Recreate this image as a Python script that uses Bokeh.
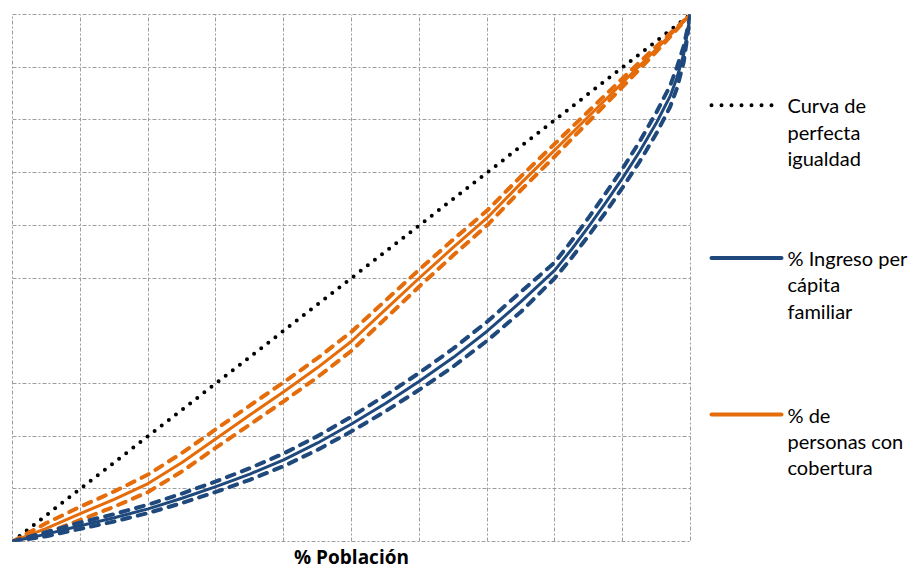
from bokeh.plotting import figure
from bokeh.models import Range1d, FixedTicker, Title
from bokeh.layouts import row
from bokeh.core.properties import value
from bokeh.embed import file_html
from bokeh.resources import INLINE

# ---------------- data ----------------
grid_x_ticks = [0, 0.1, 0.2, 0.3, 0.4, 0.5, 0.6, 0.7, 0.8, 0.9, 1.0]
grid_y_ticks = [0, 0.1, 0.2, 0.3, 0.5, 0.6, 0.7, 0.8, 0.9, 1.0]

equal_x = [0, 1]
equal_y = [0, 1]

cov_x = [0, 0.05, 0.1, 0.15, 0.2, 0.25, 0.3, 0.35, 0.4, 0.45, 0.5,
         0.55, 0.6, 0.65, 0.7, 0.75, 0.8, 0.85, 0.9, 0.95, 1.0]
cov_mid = [0, 0.025, 0.053, 0.08, 0.11, 0.15, 0.195, 0.24, 0.284, 0.33, 0.38,
           0.44, 0.50, 0.558, 0.614, 0.68, 0.743, 0.807, 0.871, 0.935, 1.0]
cov_hi = [0, 0.035, 0.066, 0.095, 0.127, 0.168, 0.213, 0.258, 0.302, 0.348, 0.398,
          0.457, 0.516, 0.573, 0.628, 0.693, 0.755, 0.817, 0.879, 0.94, 1.0]
cov_lo = [0, 0.016, 0.041, 0.066, 0.094, 0.133, 0.178, 0.222, 0.266, 0.312, 0.362,
          0.423, 0.484, 0.543, 0.600, 0.667, 0.731, 0.797, 0.863, 0.93, 1.0]

inc_x = [0, 0.05, 0.1, 0.15, 0.2, 0.25, 0.3, 0.35, 0.4, 0.45, 0.5, 0.55, 0.6, 0.65,
         0.7, 0.75, 0.8, 0.825, 0.85, 0.875, 0.9, 0.925, 0.95, 0.97, 0.98, 0.99, 1.0]
inc_mid = [0, 0.014, 0.030, 0.045, 0.062, 0.082, 0.104, 0.128, 0.155, 0.187, 0.223, 0.262,
           0.304, 0.349, 0.399, 0.455, 0.515, 0.555, 0.598, 0.643, 0.69, 0.74, 0.795,
           0.845, 0.88, 0.925, 1.0]
inc_hi = [0, 0.018, 0.036, 0.052, 0.07, 0.091, 0.114, 0.139, 0.167, 0.2, 0.237, 0.277,
          0.32, 0.366, 0.417, 0.474, 0.53, 0.571, 0.615, 0.661, 0.708, 0.759, 0.815,
          0.865, 0.9, 0.94, 1.0]
inc_lo = [0, 0.01, 0.024, 0.038, 0.054, 0.073, 0.094, 0.117, 0.143, 0.174, 0.209, 0.247,
          0.288, 0.332, 0.381, 0.436, 0.5, 0.539, 0.581, 0.625, 0.672, 0.721, 0.775,
          0.825, 0.86, 0.91, 1.0]

x_label = "% Población"
legend_eq = ["Curva de", "perfecta", "igualdad"]
legend_inc = ["% Ingreso per", "cápita", "familiar"]
legend_cov = ["% de", "personas con", "cobertura"]

ORANGE = "#E46C0A"
BLUE = "#1F497D"
GRID = "#9c9c9c"
FONT = "Lato"

# ---------------- main plot ----------------
p = figure(width=692, height=569, output_backend="svg", toolbar_location=None,
           x_range=Range1d(0, 1), y_range=Range1d(0, 1),
           min_border_left=12, min_border_top=14, min_border_right=2,
           min_border_bottom=0)
p.outline_line_color = GRID
p.outline_line_dash = "4 2 2 2"
p.outline_line_width = 1
p.xaxis.ticker = FixedTicker(ticks=grid_x_ticks)
p.yaxis.ticker = FixedTicker(ticks=grid_y_ticks)
p.axis.visible = False
p.grid.grid_line_color = GRID
p.grid.grid_line_dash = "4 2 2 2"
p.grid.grid_line_width = 1

# equality line
p.line(equal_x, equal_y, line_color="black", line_width=4,
       line_dash="0 9", line_cap="round")

# coverage curve with bands
p.line(cov_x, cov_hi, line_color=ORANGE, line_width=4, line_dash="8 8", line_cap="round")
p.line(cov_x, cov_lo, line_color=ORANGE, line_width=4, line_dash="8 8", line_cap="round")
p.line(cov_x, cov_mid, line_color=ORANGE, line_width=3)

# income curve with bands
p.line(inc_x, inc_hi, line_color=BLUE, line_width=4, line_dash="8 8", line_cap="round")
p.line(inc_x, inc_lo, line_color=BLUE, line_width=4, line_dash="8 8", line_cap="round")
p.line(inc_x, inc_mid, line_color=BLUE, line_width=3)

p.add_layout(Title(text=x_label, align="center", text_font="Open Sans",
                   text_font_style="bold", text_font_size="19px",
                   text_color="black", offset=0, standoff=0), "below")

# ---------------- legend panel ----------------
lg = figure(width=220, height=569, output_backend="svg", toolbar_location=None,
            x_range=Range1d(0, 220), y_range=Range1d(569, 0),
            min_border=0)
lg.outline_line_color = None
lg.axis.visible = False
lg.grid.visible = False

lg.line([19, 80], [98, 98], line_color="black", line_width=4,
        line_dash="0 10", line_cap="round")
lg.line([19, 89], [263, 263], line_color=BLUE, line_width=4, line_cap="round")
lg.line([19, 89], [432, 432], line_color=ORANGE, line_width=4, line_cap="round")

tx = 95
for labels, y0 in ((legend_eq, 98), (legend_inc, 263), (legend_cov, 432)):
    ys = [y0 + 28.5 * i for i in range(len(labels))]
    lg.text(x=[tx] * len(labels), y=ys, text=labels, text_font=value(FONT),
            text_font_size="20px", text_baseline="middle", text_align="left",
            text_color="black")

layout = row(p, lg)
open("out.html", "w").write(file_html(layout, INLINE))
